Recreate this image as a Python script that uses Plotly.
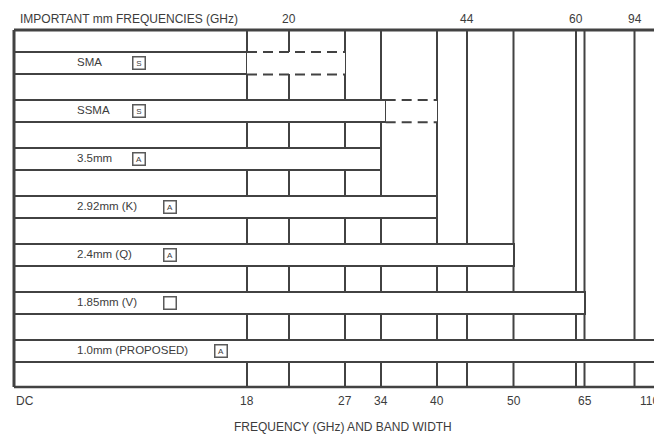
import numpy as np
import plotly.graph_objects as go

# ---------------- data ----------------
# The drawing uses a non-linear frequency scale: GHz value -> axis unit
SCALE_GHZ = [0, 18, 20, 27, 34, 40, 44, 50, 60, 65, 94, 110]
SCALE_POS = [0, 233, 275, 331, 367, 423, 453, 499.5, 562, 570.5, 620.5, 646]

connectors = ["SMA", "SSMA", "3.5mm", "2.92mm (K)", "2.4mm (Q)", "1.85mm (V)", "1.0mm (PROPOSED)"]
marks = ["S", "S", "A", "A", "A", "", "A"]
solid_max_ghz = [18, 34.5, 34, 40, 50, 65, 110]
ext_max_ghz = [27, 40, None, None, None, None, None]

band_ticks_ghz = [0, 18, 27, 34, 40, 50, 65, 110]
band_tick_labels = ["DC", "18", "27", "34", "40", "50", "65", "110"]
important_ghz = [20, 44, 60, 94]
important_labels = ["20", "44", "60", "94"]
grid_ghz = [18, 20, 27, 34, 40, 44, 50, 60, 65, 94, 110]


def fpos(g):
    return float(np.interp(g, SCALE_GHZ, SCALE_POS))


# ---------------- layout constants ----------------
BODY = 8                      # default page body margin around the figure
W, H = 662 - BODY, 435 - BODY
PAD = 3
L, R, T, B = 3, 0, 19, 45
PLOT_W = W - L - R
PLOT_H = H - T - B
PITCH = 47.95            # px per row unit
BAR_H = 0.468            # bar thickness in row units
Y_TOP, Y_BOT = -0.692, 6.754   # frame top / bottom in row units
X_MAX = PLOT_W - PAD
LINE = "#424242"
TXT = "#3c3c3c"
FONT = "Liberation Sans, Arial, sans-serif"
label_x = 63
mark_x = [125, 125, 125, 156, 156, 156, 207]


def ypaper(px_page):
    return (H - B - (px_page - BODY)) / PLOT_H


def xpaper(px_page):
    return (px_page - BODY - L) / PLOT_W


rows = list(range(len(connectors)))

fig = go.Figure()

# solid bars (white fill, dark outline) cover the grid lines
fig.add_trace(go.Bar(
    y=rows, x=[fpos(v) for v in solid_max_ghz], base=0, orientation="h",
    width=BAR_H, marker=dict(color="white", line=dict(color=LINE, width=2)),
    hoverinfo="skip", showlegend=False))

# dashed extensions (white fill, outline drawn as dashed shapes)
ext_rows = [i for i in rows if ext_max_ghz[i] is not None]
fig.add_trace(go.Bar(
    y=ext_rows,
    x=[fpos(ext_max_ghz[i]) - fpos(solid_max_ghz[i]) for i in ext_rows],
    base=[fpos(solid_max_ghz[i]) for i in ext_rows], orientation="h",
    width=BAR_H, marker=dict(color="white", line=dict(width=0)),
    hoverinfo="skip", showlegend=False))

# connector labels
fig.add_trace(go.Scatter(
    x=[label_x] * len(rows), y=rows, text=connectors, mode="text",
    textposition="middle right", textfont=dict(family=FONT, size=11.5, color=TXT),
    hoverinfo="skip", showlegend=False))

shapes = []
for g in grid_ghz:
    shapes.append(dict(type="line", layer="below", xref="x", yref="y",
                       x0=fpos(g), x1=fpos(g), y0=Y_TOP, y1=Y_BOT,
                       line=dict(color=LINE, width=2)))
for i in ext_rows:
    for yy in (i - BAR_H / 2, i + BAR_H / 2):
        shapes.append(dict(type="line", layer="above", xref="x", yref="y",
                           x0=fpos(solid_max_ghz[i]), x1=fpos(ext_max_ghz[i]),
                           y0=yy, y1=yy,
                           line=dict(color=LINE, width=2, dash="10px,6px")))
# frame
shapes.append(dict(type="line", xref="x", yref="y", x0=0, x1=X_MAX + PAD,
                   y0=Y_TOP, y1=Y_TOP, line=dict(color=LINE, width=3)))
shapes.append(dict(type="line", xref="x", yref="y", x0=0, x1=X_MAX + PAD,
                   y0=Y_BOT, y1=Y_BOT, line=dict(color=LINE, width=2.5)))
shapes.append(dict(type="line", xref="x", yref="y", x0=0, x1=0,
                   y0=Y_TOP, y1=Y_BOT, line=dict(color=LINE, width=3)))

ann = []
for i in rows:
    ann.append(dict(x=mark_x[i], y=i, xref="x", yref="y", text=marks[i],
                    showarrow=False, width=10, height=10, borderpad=0.5,
                    bordercolor="#5a5a5a", borderwidth=1.5, bgcolor="white",
                    font=dict(family=FONT, size=8, color=TXT)))
# bottom band ticks
for g, lab in zip(band_ticks_ghz, band_tick_labels):
    if g == band_ticks_ghz[0]:
        anchor, shift = "left", 0
    elif g == band_ticks_ghz[-1]:
        anchor, shift = "right", 1
    else:
        anchor, shift = "center", 0
    ann.append(dict(x=fpos(g), y=ypaper(400.5), xref="x", yref="paper", text=lab,
                    showarrow=False, xanchor=anchor, xshift=shift,
                    yanchor="middle", font=dict(family=FONT, size=12, color=TXT)))
# important frequencies (top)
ann.append(dict(x=4, y=ypaper(19.5), xref="x", yref="paper",
                text="IMPORTANT mm FREQUENCIES (GHz)", showarrow=False,
                xanchor="left", yanchor="middle",
                font=dict(family=FONT, size=12, color=TXT)))
for g, lab in zip(important_ghz, important_labels):
    ann.append(dict(x=fpos(g), y=ypaper(19.5), xref="x", yref="paper", text=lab,
                    showarrow=False, xanchor="center", yanchor="middle",
                    font=dict(family=FONT, size=12, color=TXT)))
# axis title
ann.append(dict(x=xpaper(343), y=ypaper(426.5), xref="paper", yref="paper",
                text="FREQUENCY (GHz) AND BAND WIDTH", showarrow=False,
                xanchor="center", yanchor="middle",
                font=dict(family=FONT, size=12, color=TXT)))

fig.update_layout(
    width=W, height=H, margin=dict(l=L, r=R, t=T, b=B, pad=0),
    paper_bgcolor="white", plot_bgcolor="white", barmode="overlay",
    xaxis=dict(range=[-PAD, X_MAX], visible=False, fixedrange=True),
    yaxis=dict(range=[Y_BOT + PAD / PITCH, Y_TOP - PAD / PITCH], visible=False,
               fixedrange=True),
    shapes=shapes, annotations=ann, showlegend=False, bargap=0,
)

fig.write_html("out.html")
